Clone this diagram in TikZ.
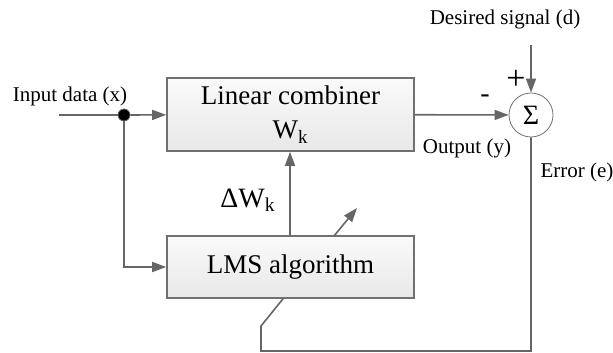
\documentclass[tikz,border=0pt]{standalone}
\usepackage{fontspec}
\setmainfont{Liberation Serif}
\usepackage{tikz}
\usetikzlibrary{calc, arrows.meta, positioning}
\definecolor{mainGray}{gray}{0.4}
\definecolor{boxGray}{gray}{0.44}

\tikzset{
    block/.style={draw=boxGray, thick, top color=gray!4, bottom color=gray!18, minimum width=123.5pt, align=center, font=\fontsize{13.5}{17}\selectfont},
    lbl/.style={font=\fontsize{10.5}{12}\selectfont, inner sep=0pt},
    wire/.style={mainGray, thick}
}

\begin{document}
\begin{tikzpicture}[x=0.5pt, y=-0.5pt, >={Triangle[length=7pt, width=5pt]}]
    \useasboundingbox (0,0) rectangle (613,352);

    \node[block, minimum height=36.5pt] (comb) at (290.5,114.5) {Linear combiner\\W\textsubscript{k}};
    \node[block, minimum height=31pt] (lms) at (290.5,267) {LMS algorithm};
    \node[draw=boxGray, circle, minimum size=22pt, inner sep=0pt, font=\fontsize{14}{14}\selectfont] (sum) at (531,115) {Σ};
    \node[circle, fill=black, draw=mainGray, minimum size=6pt, inner sep=0pt] (dot) at (124,115) {};

    \coordinate (xin) at (59,115);
    \coordinate (din) at (531,45);
    \coordinate (e1) at (531,351);
    \coordinate (e2) at (261,351);
    \coordinate (e3) at (261,326);
    \coordinate (a1) at (334,236);
    \coordinate (a2) at (357,208);

    \draw[wire] (xin) -- (dot);
    \draw[wire, ->] (dot) -- (comb);
    \draw[wire, ->] (dot) |- (lms);
    \draw[wire, ->] (comb) -- (sum);
    \draw[wire, ->] (din) -- (sum);
    \draw[wire, ->] (lms.north -| {290,0}) -- (comb.south -| {290,0});
    \draw[wire] (sum) -- (e1) -- (e2) -- (e3) -- (lms.south -| {283,0});
    \draw[wire, ->] (a1) -- (a2);

    \node[lbl] (inlbl) at (70,96) {Input data (x)};
    \node[lbl] (dlbl) at (505,19) {Desired signal (d)};
    \node[lbl] (ylbl) at (467,148) {Output (y)};
    \node[lbl] (elbl) at (577,172) {Error (e)};
    \node[lbl, font=\fontsize{14}{14}\selectfont] (dw) at (248,200) {ΔW\textsubscript{k}};
    \node[lbl, font=\fontsize{14}{14}\selectfont] (minus) at (485,99) {-};
    \node[lbl, font=\fontsize{17}{17}\selectfont] (plus) at (516,80) {+};
\end{tikzpicture}
\end{document}
